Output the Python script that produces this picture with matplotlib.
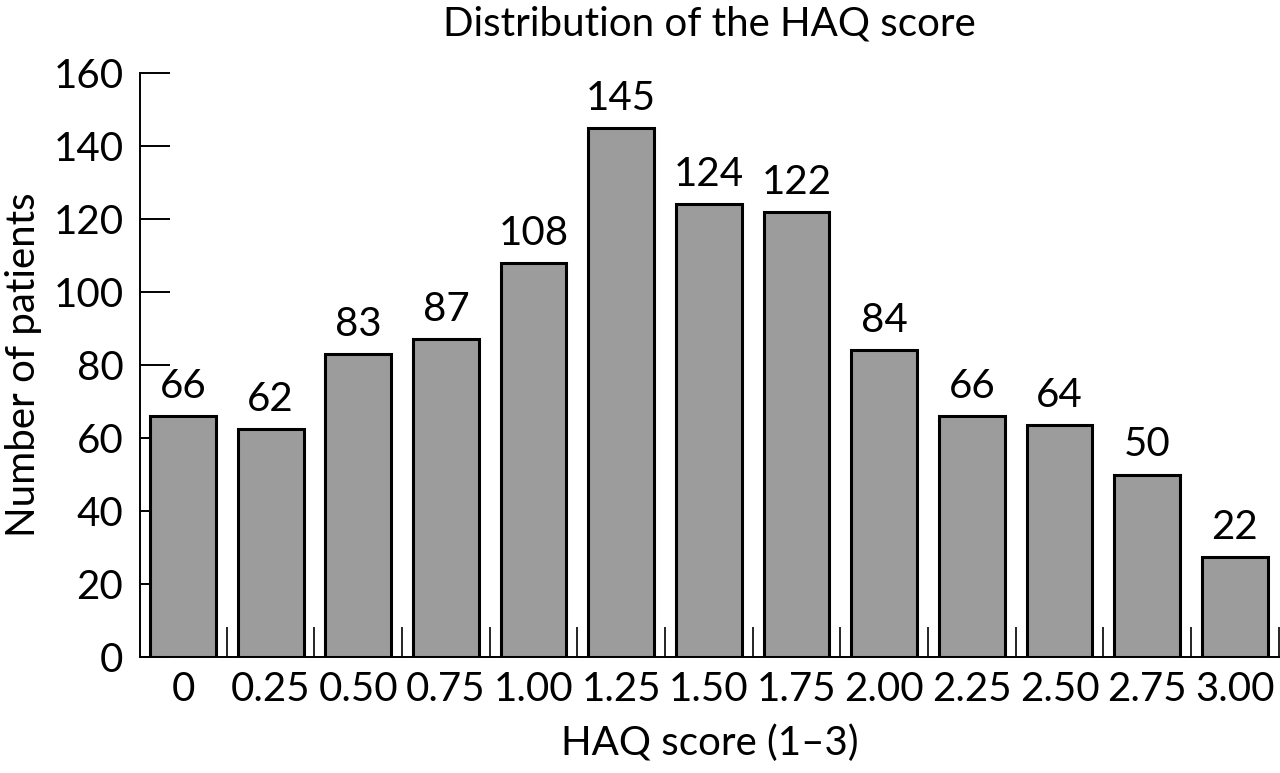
import numpy as np
import matplotlib
matplotlib.use("Agg")
import matplotlib.pyplot as plt

# HAQ score categories and number of patients
haq_labels = ["0", "0.25", "0.50", "0.75", "1.00", "1.25", "1.50",
              "1.75", "2.00", "2.25", "2.50", "2.75", "3.00"]
bar_heights = [66, 62.5, 83, 87, 108, 145, 124, 122, 84, 66, 63.5, 50, 27.5]
count_labels = [66, 62, 83, 87, 108, 145, 124, 122, 84, 66, 64, 50, 22]
y_ticks = [0, 20, 40, 60, 80, 100, 120, 140, 160]

plt.rcParams['font.family'] = ['Lato', 'DejaVu Sans']
fs = 29

fig = plt.figure(figsize=(12.8, 7.73), dpi=100)
ax = fig.add_axes([0.1094, 0.150, 0.8896, 0.7556])

x = np.arange(len(haq_labels))
bars = ax.bar(x, bar_heights, width=0.75, color="#9c9c9c",
              edgecolor="black", linewidth=2.2, zorder=2)

for xi, h, lab in zip(x, bar_heights, count_labels):
    ax.annotate(str(lab), (xi, h), xytext=(0, 13), textcoords="offset points",
                ha="center", va="baseline", fontsize=fs)

ax.set_xlim(-0.49, len(haq_labels) - 0.5)
ax.set_ylim(0, 160)
ax.set_yticks(y_ticks)
ax.set_yticklabels([str(t) for t in y_ticks], fontsize=fs)
ax.set_xticks(x)
ax.set_xticklabels(haq_labels, fontsize=fs)
ax.set_xticks(list(x + 0.5), minor=True)

ax.tick_params(axis="y", direction="in", length=21.5, width=1.4, pad=12)
ax.tick_params(axis="x", which="major", length=0, pad=10)
ax.tick_params(axis="x", which="minor", direction="in", length=21.5, width=1.2)

for side in ["top", "right"]:
    ax.spines[side].set_visible(False)
for side in ["left", "bottom"]:
    ax.spines[side].set_linewidth(1.4)

ax.set_xlabel("HAQ score (1–3)", fontsize=fs, labelpad=12)
ax.set_ylabel("Number of patients", fontsize=fs, labelpad=8)
ax.set_title("Distribution of the HAQ score", fontsize=fs, pad=27)

fig.savefig("out.png", dpi=100)
